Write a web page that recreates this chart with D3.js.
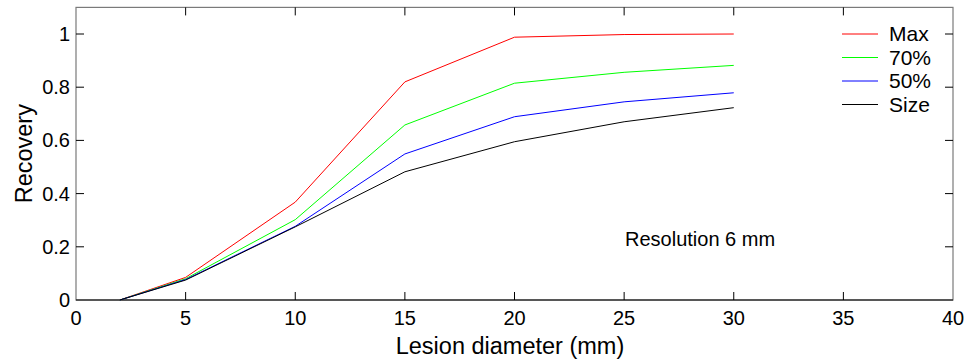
<!DOCTYPE html>
<html>
<head>
<meta charset="utf-8">
<script src="https://cdn.jsdelivr.net/npm/d3@7"></script>
<style>
  body { margin: 0; background: #fff; }
  text { font-family: "Liberation Sans", Arial, sans-serif; fill: #000; }
</style>
</head>
<body>
<div id="chart"></div>
<script>
// lesion diameters (mm)
var diameters = [2, 5, 10, 15, 20, 25, 30];
// recovery per method
var maxRec  = [0, 0.085, 0.368, 0.82, 0.988, 0.998, 1.0];
var p70Rec  = [0, 0.080, 0.302, 0.658, 0.815, 0.856, 0.882];
var p50Rec  = [0, 0.077, 0.277, 0.549, 0.689, 0.745, 0.779];
var sizeRec = [0, 0.075, 0.275, 0.482, 0.595, 0.670, 0.723];

var seriesNames = ["Max", "70%", "50%", "Size"];
var seriesColors = ["#ff0000", "#00ff00", "#0000ff", "#000000"];
var seriesValues = [maxRec, p70Rec, p50Rec, sizeRec];

var xTicks = [0, 5, 10, 15, 20, 25, 30, 35, 40];
var yTicks = [0, 0.2, 0.4, 0.6, 0.8, 1];

var width = 967, height = 360;
var margin = {top: 8, right: 14, bottom: 60, left: 76};

var svg = d3.select("#chart").append("svg")
  .attr("width", width)
  .attr("height", height);

var x = d3.scaleLinear().domain([0, 40]).range([margin.left, width - margin.right]);
var y = d3.scaleLinear().domain([0, 1.1]).range([300, 300 - 1.1 * 266]);

var x0 = x.range()[0], x1 = x.range()[1];
var y0 = y(0), y1 = y(1.1);

// box
svg.append("rect")
  .attr("x", x0).attr("y", y1)
  .attr("width", x1 - x0).attr("height", y0 - y1)
  .attr("fill", "none").attr("stroke", "#7a7a7a").attr("stroke-width", 1.2);

// ticks, inward on all four sides
var tl = 8;
xTicks.slice(1, -1).forEach(function(t) {
  svg.append("line").attr("x1", x(t)).attr("x2", x(t)).attr("y1", y0).attr("y2", y0 - tl)
    .attr("stroke", "#000");
  svg.append("line").attr("x1", x(t)).attr("x2", x(t)).attr("y1", y1).attr("y2", y1 + tl)
    .attr("stroke", "#000");
});
yTicks.slice(1).forEach(function(t) {
  svg.append("line").attr("x1", x0).attr("x2", x0 + tl).attr("y1", y(t)).attr("y2", y(t))
    .attr("stroke", "#000");
  svg.append("line").attr("x1", x1).attr("x2", x1 - tl).attr("y1", y(t)).attr("y2", y(t))
    .attr("stroke", "#000");
});

// bottom axis line in black
svg.append("line").attr("x1", x0).attr("x2", x1).attr("y1", y0).attr("y2", y0)
  .attr("stroke", "#000").attr("stroke-width", 1.2);

// tick labels
svg.selectAll(".xl").data(xTicks).enter().append("text")
  .attr("x", function(d) { return x(d); })
  .attr("y", 325)
  .attr("text-anchor", "middle")
  .attr("font-size", 20)
  .text(function(d) { return d; });

svg.selectAll(".yl").data(yTicks).enter().append("text")
  .attr("x", 70)
  .attr("y", function(d) { return y(d) + 7; })
  .attr("text-anchor", "end")
  .attr("font-size", 20)
  .text(function(d) { return d; });

// axis labels
svg.append("text")
  .attr("x", 510)
  .attr("y", 354)
  .attr("text-anchor", "middle")
  .attr("font-size", 23.5)
  .text("Lesion diameter (mm)");

svg.append("text")
  .attr("transform", "translate(32," + y(0.55) + ") rotate(-90)")
  .attr("text-anchor", "middle")
  .attr("font-size", 23.5)
  .text("Recovery");

// series lines
var line = d3.line()
  .x(function(d, i) { return x(diameters[i]); })
  .y(function(d) { return y(d); });

seriesValues.forEach(function(vals, i) {
  svg.append("path")
    .datum(vals)
    .attr("d", line)
    .attr("fill", "none")
    .attr("stroke", seriesColors[i])
    .attr("stroke-width", 1);
});

// legend
var lg = svg.append("g");
seriesNames.forEach(function(name, i) {
  var ly = 34 + i * 23.5;
  lg.append("line")
    .attr("x1", 842).attr("x2", 878).attr("y1", ly).attr("y2", ly)
    .attr("stroke", seriesColors[i]);
  lg.append("text")
    .attr("x", 889).attr("y", ly + 7)
    .attr("font-size", 21)
    .text(name);
});

// annotation
svg.append("text")
  .attr("x", 625)
  .attr("y", 246)
  .attr("font-size", 20)
  .text("Resolution 6 mm");
</script>
</body>
</html>
